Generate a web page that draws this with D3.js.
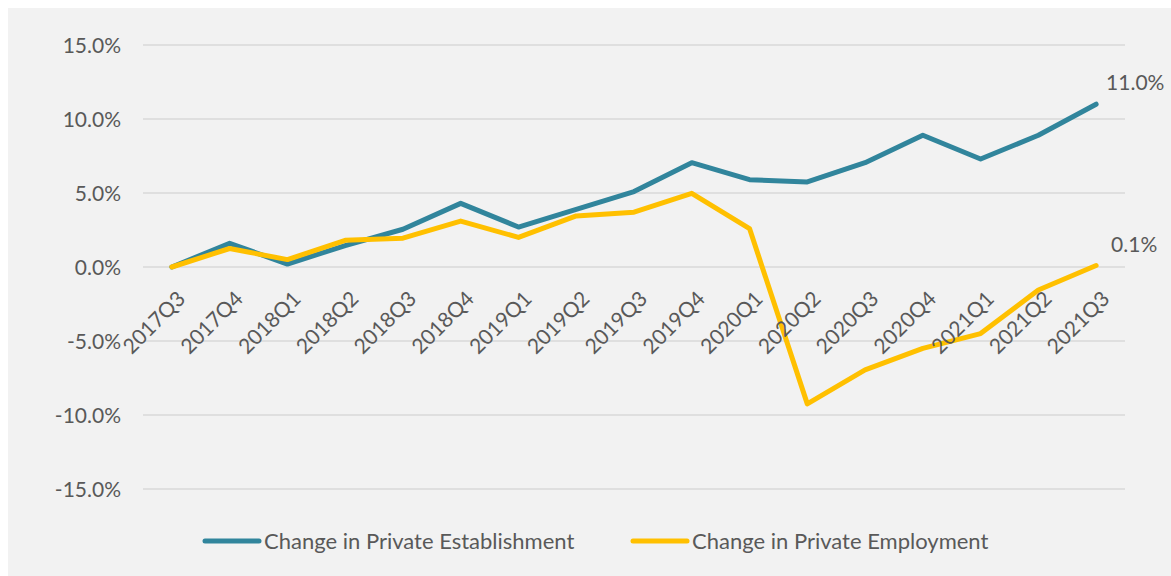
<!DOCTYPE html>
<html>
<head>
<meta charset="utf-8">
<script src="https://cdn.jsdelivr.net/npm/d3@7"></script>
<style>
  html, body { margin: 0; padding: 0; background: #ffffff; }
  svg { display: block; }
  text { font-family: Lato, "Open Sans", sans-serif; fill: #595959; }
</style>
</head>
<body>
<svg id="chart" width="1171" height="576"></svg>
<script>
// Quarterly cumulative change since 2017Q3, percent
const quarters = ["2017Q3","2017Q4","2018Q1","2018Q2","2018Q3","2018Q4","2019Q1","2019Q2","2019Q3","2019Q4","2020Q1","2020Q2","2020Q3","2020Q4","2021Q1","2021Q2","2021Q3"];
const establishment = [0, 1.6, 0.2, 1.45, 2.55, 4.3, 2.7, 3.9, 5.1, 7.05, 5.9, 5.75, 7.05, 8.9, 7.3, 8.9, 11.0];
const employment = [0, 1.25, 0.5, 1.8, 1.95, 3.1, 2.0, 3.45, 3.7, 4.98, 2.6, -9.25, -6.95, -5.5, -4.5, -1.55, 0.1];
const yTicks = [-15, -10, -5, 0, 5, 10, 15];
const seriesNames = ["Change in Private Establishment", "Change in Private Employment"];
const seriesColors = ["#31859C", "#FFC000"];

// percent with one decimal and a plain hyphen for negatives
const pct = d => d3.format(".1f")(d).replace("\u2212", "-") + "%";

const svg = d3.select("#chart");

// panel background
svg.append("rect")
  .attr("x", 8).attr("y", 8)
  .attr("width", 1163).attr("height", 568)
  .attr("fill", "#f2f2f2");

const plot = { left: 143, right: 1125, top: 45, bottom: 489 };

const x = d3.scalePoint()
  .domain(quarters)
  .range([plot.left, plot.right])
  .padding(0.5);

const y = d3.scaleLinear()
  .domain([-15, 15])
  .range([plot.bottom, plot.top]);

// horizontal gridlines
svg.append("g")
  .selectAll("line")
  .data(yTicks)
  .join("line")
  .attr("x1", plot.left).attr("x2", plot.right)
  .attr("y1", d => y(d)).attr("y2", d => y(d))
  .attr("stroke", "#d9d9d9")
  .attr("stroke-width", 1.3);

// y axis labels
const yAxis = d3.axisLeft(y)
  .tickValues(yTicks)
  .tickSize(0)
  .tickPadding(0)
  .tickFormat(pct);

const gy = svg.append("g")
  .attr("transform", `translate(${plot.left - 22},0)`)
  .call(yAxis);
gy.select(".domain").remove();
gy.selectAll("text")
  .style("font-size", "21px")
  .attr("dy", "0.35em");

// series lines
const line = d3.line()
  .x((d, i) => x(quarters[i]))
  .y(d => y(d));

[establishment, employment].forEach((vals, k) => {
  svg.append("path")
    .datum(vals)
    .attr("d", line)
    .attr("fill", "none")
    .attr("stroke", seriesColors[k])
    .attr("stroke-width", 5)
    .attr("stroke-linejoin", "round")
    .attr("stroke-linecap", "round");
});

// category labels, rotated
const xAxis = d3.axisBottom(x).tickSize(0).tickPadding(0);
const gx = svg.append("g")
  .attr("transform", `translate(0,${y(0)})`)
  .call(xAxis);
gx.select(".domain").remove();
gx.selectAll("text")
  .style("font-size", "21px")
  .attr("text-anchor", "end")
  .attr("transform", "translate(9,28) rotate(-45)")
  .attr("dy", "0.35em")
  .attr("y", 0);

// end-point value labels
const last = quarters.length - 1;
svg.append("text")
  .attr("x", x(quarters[last]) + 10)
  .attr("y", y(establishment[last]) - 22)
  .attr("dy", "0.35em")
  .style("font-size", "21px")
  .text(pct(establishment[last]));
svg.append("text")
  .attr("x", x(quarters[last]) + 15)
  .attr("y", y(employment[last]) - 21)
  .attr("dy", "0.35em")
  .style("font-size", "21px")
  .text(pct(employment[last]));

// legend
const legendY = 541;
const legendX = [205, 633];
seriesNames.forEach((name, k) => {
  const g = svg.append("g").attr("transform", `translate(${legendX[k]},${legendY})`);
  g.append("line")
    .attr("x1", 0).attr("x2", 54)
    .attr("y1", 0).attr("y2", 0)
    .attr("stroke", seriesColors[k])
    .attr("stroke-width", 5)
    .attr("stroke-linecap", "round");
  g.append("text")
    .attr("x", 59).attr("y", 0)
    .attr("dy", "0.35em")
    .style("font-size", "22px")
    .text(name);
});
</script>
</body>
</html>
